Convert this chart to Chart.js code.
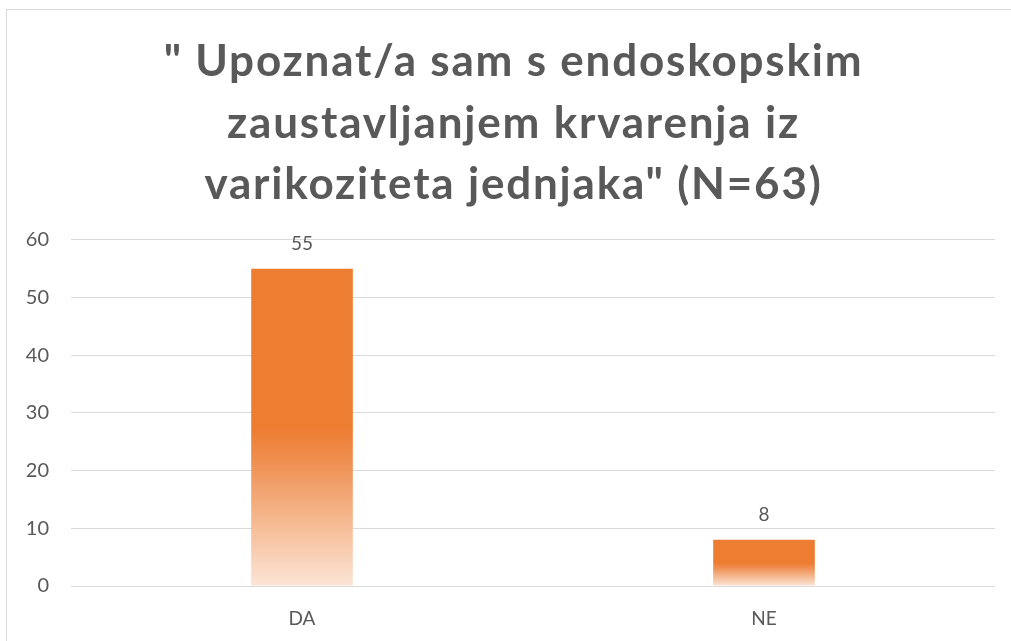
<!DOCTYPE html>
<html>
<head>
<meta charset="utf-8">
<script src="https://cdn.jsdelivr.net/npm/chart.js@4"></script>
<style>
  html, body { margin: 0; padding: 0; background: #fff; overflow: hidden; }
  #frame { position: absolute; left: 6px; top: 9px; width: 1100px; height: 700px; border: 1px solid #d9d9d9; }
  #wrap { position: absolute; left: 0; top: 0; width: 1011px; height: 641px; }
</style>
</head>
<body>
<div id="frame"></div>
<div id="wrap"><canvas id="chart1"></canvas></div>
<script>
const categories = ['DA', 'NE'];
const values = [55, 8];
const titleLines = ['" Upoznat/a sam s endoskopskim', 'zaustavljanjem krvarenja iz', 'varikoziteta jednjaka" (N=63)'];
const yMax = 60;
const yStep = 10;

const orange = '#ED7D31';
const textGray = '#595959';

// gradient goes per bar: solid on top half, fading to pale at the base
function barFill(context) {
  const chart = context.chart;
  if (!chart.chartArea) return orange;
  const y = chart.scales.y;
  const top = y.getPixelForValue(context.raw);
  const bottom = y.getPixelForValue(0);
  const g = chart.ctx.createLinearGradient(0, top, 0, bottom);
  g.addColorStop(0, orange);
  g.addColorStop(0.5, orange);
  g.addColorStop(0.58, '#EE8A48');
  g.addColorStop(1, '#FBE5D6');
  return g;
}

const valueLabels = {
  id: 'valueLabels',
  afterDatasetsDraw(chart) {
    const ctx = chart.ctx;
    const meta = chart.getDatasetMeta(0);
    ctx.save();
    ctx.font = '19px Lato';
    ctx.fillStyle = textGray;
    ctx.textAlign = 'center';
    ctx.textBaseline = 'middle';
    meta.data.forEach((bar, i) => {
      ctx.fillText(String(values[i]), bar.x, bar.y - 25);
    });
    ctx.restore();
  }
};

// the title in the original is a bit spaced out and centred on the frame
const titleSpacing = {
  id: 'titleSpacing',
  beforeDraw(chart) {
    const tb = chart.titleBlock;
    if (!tb || tb._spaced) return;
    const orig = tb.draw;
    tb.draw = function () {
      const c = chart.ctx;
      c.save();
      c.translate(16, 0);
      c.letterSpacing = '1.8px';
      orig.apply(tb, arguments);
      c.restore();
    };
    tb._spaced = true;
  }
};

document.addEventListener('DOMContentLoaded', function () {
  const ctx = document.getElementById('chart1').getContext('2d');
  new Chart(ctx, {
    type: 'bar',
    data: {
      labels: categories,
      datasets: [{
        data: values,
        backgroundColor: barFill,
        borderWidth: 0,
        categoryPercentage: 0.44,
        barPercentage: 0.5
      }]
    },
    plugins: [valueLabels, titleSpacing],
    options: {
      responsive: true,
      maintainAspectRatio: false,
      animation: false,
      layout: { padding: { left: 0, right: 16, top: 0, bottom: 0 } },
      plugins: {
        legend: { display: false },
        tooltip: { enabled: false },
        title: {
          display: true,
          text: titleLines,
          color: textGray,
          font: { family: 'Lato', weight: 'bold', size: 44, lineHeight: 1.4 },
          padding: { top: 31, bottom: 24 }
        }
      },
      scales: {
        x: {
          grid: { display: false },
          border: { display: false },
          ticks: { color: textGray, font: { family: 'Lato', size: 19 }, padding: 13 },
          afterFit(scale) { scale.height = 55; }
        },
        y: {
          min: 0,
          max: yMax,
          ticks: { stepSize: yStep, color: textGray, font: { family: 'Lato', size: 20 }, padding: 22 },
          grid: { color: '#d9d9d9', lineWidth: 1, drawTicks: false },
          border: { display: false },
          afterFit(scale) { scale.width = 71; }
        }
      }
    }
  });
});
</script>
</body>
</html>
